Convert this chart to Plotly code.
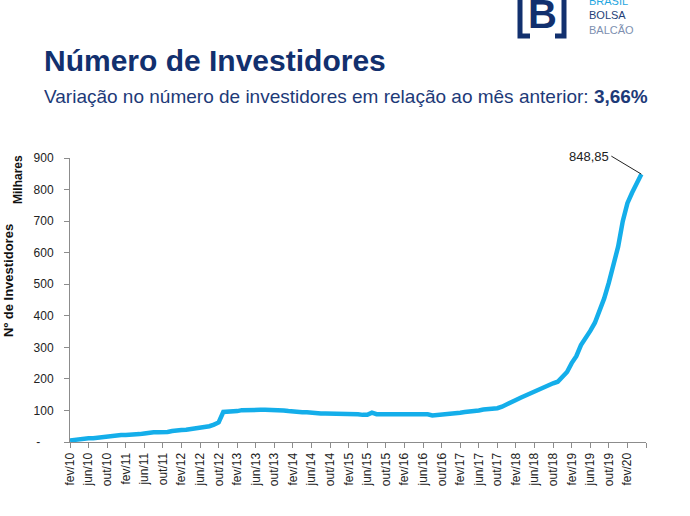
import plotly.graph_objects as go

# ---------------- data ----------------
month_names = ["jan", "fev", "mar", "abr", "mai", "jun", "jul", "ago", "set", "out", "nov", "dez"]
months = []
for k in range(124):
    mi = (1 + k) % 12
    yr = 10 + (1 + k) // 12
    months.append(f"{month_names[mi]}/{yr:02d}")

investidores = [
    5, 7, 10, 11, 12, 12, 14, 16, 18, 20, 22, 22,            # fev/10 - jan/11
    22, 22, 23, 25, 27, 30, 31, 31, 31, 32, 35, 38,          # fev/11 - jan/12
    38, 39, 41, 44, 46, 48, 50, 55, 62, 95, 95, 95,          # fev/12 - jan/13
    98, 101, 102, 102, 102, 102, 102, 102, 102, 102, 100, 98,  # fev/13 - jan/14
    96, 94, 94, 94, 92, 90, 90, 90, 90, 90, 90, 90,          # fev/14 - jan/15
    90, 90, 88, 86, 86, 93, 88, 88, 88, 88, 88, 88,          # fev/15 - jan/16
    88, 88, 88, 88, 88, 88, 84, 85, 87, 88, 88, 89,          # fev/16 - jan/17
    93, 95, 96, 98, 100, 103, 104, 106, 107, 112, 118, 126,  # fev/17 - jan/18
    133, 140, 147, 154, 161, 168, 174, 180, 186, 191, 205, 222,  # fev/18 - jan/19
    250, 272, 307, 327, 352, 378, 415, 455, 505, 560, 619, 700,  # fev/19 - jan/20
    757, 790, 820, 848.85,                                    # fev/20 - mai/20
]

y_ticks = [0, 100, 200, 300, 400, 500, 600, 700, 800, 900]
y_ticktext = ["-\u2007\u2007"] + [str(v) for v in y_ticks[1:]]
x_tickpos = list(range(0, 125, 4))
x_ticktext = [months[i] if i < len(months) else "" for i in x_tickpos]

title_text = "Número de Investidores"
subtitle_text = "Variação no número de investidores em relação ao mês anterior: <b>3,66%</b>"
last_label = "848,85"
logo_lines = [("BRASIL", "#1fa6e0"), ("BOLSA", "#233f78"), ("BALCÃO", "#7d8fb0")]

# ---------------- layout helpers ----------------
W, H = 690, 516
L, R, T, B = 70, 44, 158, 74
PW, PH = W - L - R, H - T - B


def px(x):
    return (x - L) / PW


def py(y):
    return (H - B - y) / PH


NAVY = "#12306e"
LINE = "#14aeea"
AXIS = "#8c8c8c"

fig = go.Figure()
fig.add_trace(go.Scatter(
    x=months, y=investidores, mode="lines",
    line=dict(color=LINE, width=4.5), hoverinfo="skip", showlegend=False,
))

fig.update_layout(
    width=W, height=H,
    margin=dict(l=L, r=R, t=T, b=B),
    paper_bgcolor="white", plot_bgcolor="white",
    font=dict(family="Liberation Sans, Arial, sans-serif", color="#222222"),
    xaxis=dict(
        type="category", range=[0, 124],
        tickmode="array", tickvals=x_tickpos, ticktext=x_ticktext,
        tickangle=-90, tickfont=dict(size=12, color="#222222"),
        showline=True, linecolor=AXIS, linewidth=1,
        ticks="outside", ticklen=5, tickcolor=AXIS,
        showgrid=False, zeroline=False,
    ),
    yaxis=dict(
        range=[0, 900], tickmode="array", tickvals=y_ticks, ticktext=y_ticktext,
        tickfont=dict(size=12, color="#222222"),
        showline=True, linecolor=AXIS, linewidth=1,
        ticks="outside", ticklen=5, tickcolor=AXIS, ticklabelstandoff=8,
        showgrid=False, zeroline=False,
    ),
)

ann = []
ann.append(dict(xref="paper", yref="paper", x=px(42), y=py(60), xanchor="left", yanchor="middle",
                text=f"<b>{title_text}</b>", showarrow=False,
                font=dict(family="Liberation Sans, Arial, sans-serif", size=30, color=NAVY)))
ann.append(dict(xref="paper", yref="paper", x=px(42), y=py(97), xanchor="left", yanchor="middle",
                text=subtitle_text, showarrow=False,
                font=dict(family="Liberation Sans, Arial, sans-serif", size=19, color="#1d3a78")))
# axis titles
ann.append(dict(xref="paper", yref="paper", x=px(8), y=py(281), xanchor="center", yanchor="middle",
                text="<b>Nº de Investidores</b>", textangle=-90, showarrow=False,
                font=dict(family="Liberation Sans, Arial, sans-serif", size=13, color="#111111")))
ann.append(dict(xref="paper", yref="paper", x=px(18), y=py(180), xanchor="center", yanchor="middle",
                text="<b>Milhares</b>", textangle=-90, showarrow=False,
                font=dict(family="Liberation Sans, Arial, sans-serif", size=12, color="#111111")))
# last value label
ann.append(dict(x=months[-1], y=investidores[-1], xref="x", yref="y",
                text=last_label, showarrow=True, arrowhead=0, arrowwidth=1, arrowcolor="#222222",
                ax=-30, ay=-18, xanchor="right", yanchor="middle",
                font=dict(size=13, color="#222222")))
# logo
ann.append(dict(xref="paper", yref="paper", x=px(542), y=py(30), xanchor="center", yanchor="bottom",
                text="<b>B</b>", showarrow=False, yshift=-8,
                font=dict(family="Liberation Sans, Arial, sans-serif", size=40, color=NAVY)))
logo_text = "<br>".join(f"<span style='color:{c}'>{t}</span>" for t, c in logo_lines)
ann.append(dict(xref="paper", yref="paper", x=px(588), y=py(37), xanchor="left", yanchor="bottom",
                text=logo_text, showarrow=False, align="left", borderpad=0,
                font=dict(family="Liberation Sans, Arial, sans-serif", size=11)))
fig.update_layout(annotations=ann)

shapes = []
shapes.append(dict(type="path", xref="paper", yref="paper",
                   path=f"M {px(528)} {py(-3)} L {px(520)} {py(-3)} L {px(520)} {py(36)} L {px(530)} {py(36)}",
                   line=dict(color=NAVY, width=5)))
shapes.append(dict(type="path", xref="paper", yref="paper",
                   path=f"M {px(555)} {py(-3)} L {px(564)} {py(-3)} L {px(564)} {py(36)} L {px(555)} {py(36)}",
                   line=dict(color=NAVY, width=5)))
fig.update_layout(shapes=shapes)

fig.write_html("out.html", config={"displayModeBar": False},
               post_script="document.body.style.margin='0';")
